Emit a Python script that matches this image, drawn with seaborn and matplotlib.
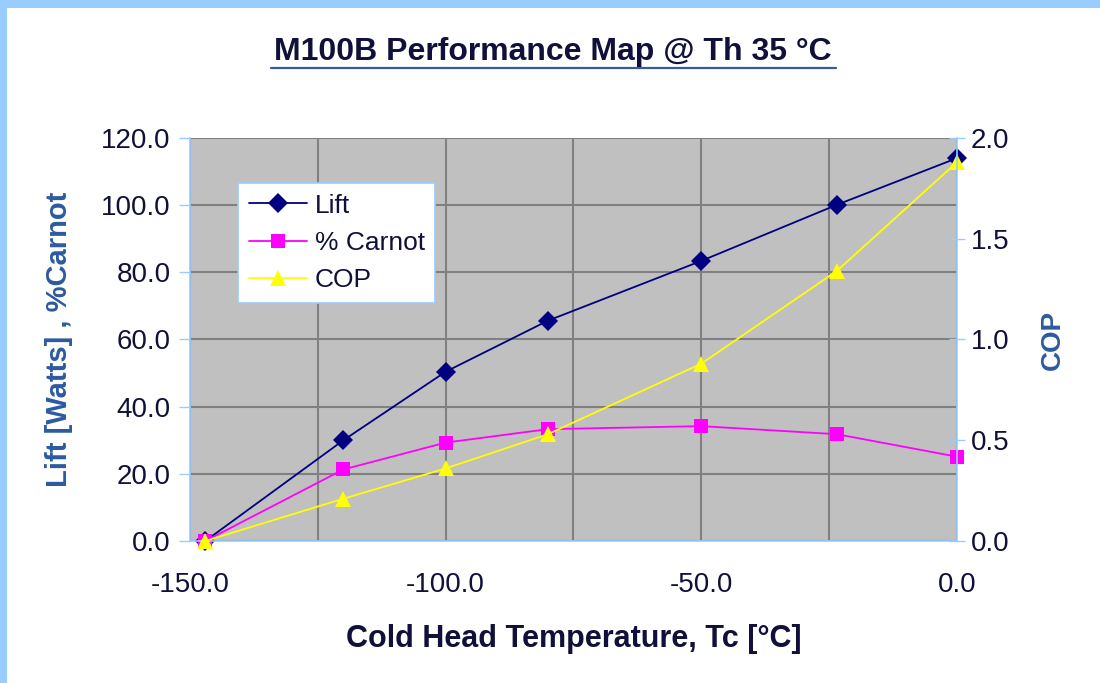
import numpy as np
import pandas as pd
import matplotlib.pyplot as plt
import matplotlib.ticker as mticker
from matplotlib.patches import Rectangle
from matplotlib.lines import Line2D
import seaborn as sns

# data
temp_c = [-147, -120, -100, -80, -50, -23.5, 0]
lift_w = [0.0, 30.0, 50.4, 65.6, 83.4, 100.1, 114.0]
carnot_pct = [0.0, 21.3, 29.3, 33.3, 34.2, 31.8, 25.1]
cop = [0.0, 0.21, 0.36, 0.53, 0.88, 1.34, 1.88]

df = pd.DataFrame({'temp': temp_c, 'lift': lift_w, 'carnot': carnot_pct, 'cop': cop})

sns.set_style('white')
plt.rcParams['font.family'] = ['Liberation Sans', 'DejaVu Sans']

edge_blue = '#99CCFF'
text_col = '#10103a'
label_blue = '#2c5aa0'

fig = plt.figure(figsize=(11, 6.83), dpi=100)
fig.patch.set_facecolor('white')
ax = fig.add_axes([0.1727, 0.2079, 0.6973, 0.5901])
ax.set_facecolor('#C0C0C0')

sns.lineplot(data=df, x='temp', y='lift', ax=ax, color='#000080', marker='D', markersize=10,
             markeredgewidth=0, linewidth=1.3, clip_on=False, label='Lift')
sns.lineplot(data=df, x='temp', y='carnot', ax=ax, color='#FF00FF', marker='s', markersize=10,
             markeredgewidth=0, linewidth=1.3, clip_on=False, label='% Carnot')

ax2 = ax.twinx()
sns.lineplot(data=df, x='temp', y='cop', ax=ax2, color='#FFFF00', marker='^', markersize=11,
             markeredgewidth=0, linewidth=1.3, clip_on=False, label='COP')

# axes ranges / ticks
ax.set_xlim(-150, 0)
ax.set_ylim(0, 120)
ax2.set_ylim(0, 2.0)
ax.xaxis.set_major_locator(mticker.MultipleLocator(50))
ax.xaxis.set_minor_locator(mticker.MultipleLocator(25))
ax.yaxis.set_major_locator(mticker.MultipleLocator(20))
ax2.yaxis.set_major_locator(mticker.MultipleLocator(0.5))
ax.xaxis.set_major_formatter(mticker.FormatStrFormatter('%.1f'))
ax.yaxis.set_major_formatter(mticker.FormatStrFormatter('%.1f'))
ax2.yaxis.set_major_formatter(mticker.FormatStrFormatter('%.1f'))

ax.grid(True, which='both', axis='x', color='#808080', linewidth=1.5)
ax.grid(True, which='major', axis='y', color='#808080', linewidth=1.5)
ax.set_axisbelow(True)

ax.tick_params(axis='both', which='major', direction='out', length=8, width=1,
               color=edge_blue, labelsize=20, labelcolor=text_col, pad=6)
ax.tick_params(axis='x', which='minor', length=0)
ax.tick_params(axis='x', pad=14)
ax2.tick_params(axis='y', direction='inout', length=12, width=1, color=edge_blue,
                labelsize=20, labelcolor=text_col, pad=4)

for a in (ax, ax2):
    for side in ('left', 'right', 'bottom'):
        a.spines[side].set_color(edge_blue)
        a.spines[side].set_linewidth(1.2)
    a.spines['top'].set_visible(False)
ax.spines['right'].set_visible(False)
ax2.spines['left'].set_visible(False)
ax2.spines['bottom'].set_visible(False)

ax.set_xlabel('Cold Head Temperature, Tc [°C]', fontsize=22, fontweight='bold',
              color=text_col, labelpad=19)
ax.set_ylabel('Lift [Watts] , %Carnot', fontsize=21, fontweight='bold',
              color=label_blue, labelpad=20)
ax2.set_ylabel('COP', fontsize=20, fontweight='bold', color=label_blue, labelpad=22)

# legend with all three series
h1, l1 = ax.get_legend_handles_labels()
h2, l2 = ax2.get_legend_handles_labels()
if ax.get_legend() is not None:
    ax.get_legend().remove()
leg = ax2.legend(h1 + h2, l1 + l2, loc='upper left', bbox_to_anchor=(0.0626, 0.888),
                 borderaxespad=0, fontsize=19, frameon=True, fancybox=False, framealpha=1,
                 edgecolor=edge_blue, handlelength=2.2, handletextpad=0.3,
                 labelspacing=0.5, borderpad=0.4)
leg.get_frame().set_linewidth(1.2)
for t in leg.get_texts():
    t.set_color(text_col)

# title with underline
fig.text(0.503, 0.924, 'M100B Performance Map @ Th 35 °C', ha='center', va='center',
         fontsize=23, fontweight='bold', color=text_col)
fig.add_artist(Line2D([0.246, 0.760], [0.900, 0.900], transform=fig.transFigure,
                      color='#3a5a9a', linewidth=1.6))

# light blue frame strips (left and top)
fig.patches.append(Rectangle((0, 0), 7 / 1100, 1, transform=fig.transFigure,
                             facecolor=edge_blue, edgecolor='none', zorder=-1))
fig.patches.append(Rectangle((0, 1 - 8 / 683), 1, 8 / 683, transform=fig.transFigure,
                             facecolor=edge_blue, edgecolor='none', zorder=-1))

fig.savefig('out.png', dpi=100)
